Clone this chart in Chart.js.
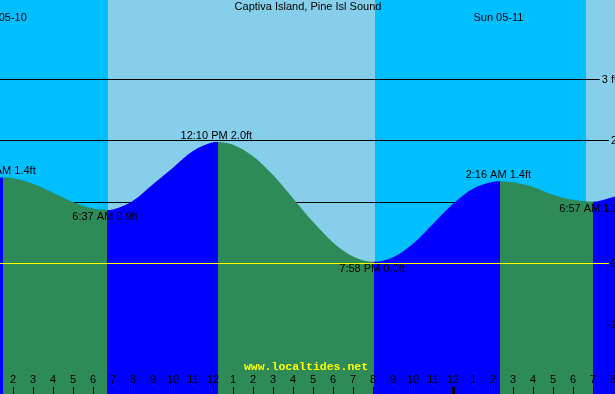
<!DOCTYPE html>
<html lang="en">
<head>
<meta charset="UTF-8">
<title>Captiva Island, Pine Isl Sound</title>
<style>
  body { margin: 0; background: #87CEEB; }
  #wrap { width: 615px; height: 394px; }
</style>
</head>
<body>
<div id="wrap"><canvas id="tideChart" width="615" height="394"></canvas></div>
<script src="https://cdn.jsdelivr.net/npm/chart.js@4"></script>
<script>
  // time is in hours counted from midnight, Sat 05-10
  const hours   = [1.0, 1.5, 2, 3, 4, 5, 6, 6.7, 7, 8, 9, 10, 11, 12, 12.25, 13, 14, 15, 16, 17, 18, 19, 20.05,
                   21, 22, 23, 24, 25, 26, 26.35, 27, 28, 29, 30, 31, 32, 33];
  const heights = [1.385, 1.40, 1.388, 1.299, 1.151, 0.998, 0.893, 0.87, 0.878, 1.02, 1.29, 1.56, 1.83, 1.974, 1.98,
                   1.936, 1.747, 1.439, 1.063, 0.676, 0.341, 0.112, 0.026,
                   0.098, 0.32, 0.64, 0.97, 1.215, 1.33, 1.34, 1.324, 1.246, 1.12, 1.035, 1.005, 1.08, 1.2];

  // high / low annotations
  const extremeHours   = [1.5, 6.6, 12.167, 19.95, 26.267, 30.95];
  const extremeHeights = [1.40, 0.87, 1.98, 0.026, 1.34, 1.005];
  const extremeLabels  = ["1:25 AM 1.4ft", "6:37 AM 0.9ft", "12:10 PM 2.0ft", "7:58 PM 0.0ft", "2:16 AM 1.4ft", "6:57 AM 1.0ft"];
  const extremeIsHigh  = [true, false, true, false, true, false];

  // night = before sunrise / after sunset
  const nightFrom = [0, 20.1];
  const nightTo   = [6.75, 30.67];

  const dayLabels     = ["Sat 05-10", "Sun 05-11"];
  const dayLabelHours = [1.5, 26.27];

  const levelValues = [3, 2, 1, 0, -1];
  const levelLabels = ["3 ft", "2", "1", "0", "-1"];

  const hourTicks  = [1, 2, 3, 4, 5, 6, 7, 8, 9, 10, 11, 12, 13, 14, 15, 16, 17, 18, 19, 20, 21, 22, 23, 24,
                      25, 26, 27, 28, 29, 30, 31, 32];
  const hourLabels = ["1", "2", "3", "4", "5", "6", "7", "8", "9", "10", "11", "12", "1", "2", "3", "4", "5", "6",
                      "7", "8", "9", "10", "11", "12", "1", "2", "3", "4", "5", "6", "7", "8"];

  const DAY = "#87CEEB", NIGHT = "#00BFFF";
  const RISING = "#0000FF", FALLING = "#2E8B57";
  const FONT = '11px "Liberation Sans", Arial, sans-serif';

  function levelLine(ctx, area, y, v, i, color) {
    const py = Math.round(y.getPixelForValue(v) - 0.5);
    const labelRight = area.right + 2;
    const w = ctx.measureText(levelLabels[i]).width;
    ctx.fillStyle = color;
    if (v > -1) ctx.fillRect(area.left, py, labelRight - w - 2 - area.left, 1);
    ctx.fillStyle = "#000";
    ctx.fillText(levelLabels[i], labelRight, py + 1);
  }

  const decor = {
    id: "tideDecor",
    beforeDraw(chart) {
      const {ctx, chartArea: a, scales: {x, y}} = chart;
      ctx.save();
      ctx.fillStyle = DAY;
      ctx.fillRect(a.left, a.top, a.right - a.left, a.bottom - a.top);
      ctx.fillStyle = NIGHT;
      nightFrom.forEach((s, i) => {
        const x0 = Math.round(x.getPixelForValue(s));
        const x1 = Math.round(x.getPixelForValue(nightTo[i]));
        ctx.fillRect(x0, a.top, x1 - x0, a.bottom - a.top);
      });
      // levels above zero sit behind the water
      ctx.font = FONT;
      ctx.textAlign = "right";
      ctx.textBaseline = "middle";
      levelValues.forEach((v, i) => { if (v > 0) levelLine(ctx, a, y, v, i, "#000"); });
      ctx.restore();
    },
    afterDatasetsDraw(chart) {
      const {ctx, chartArea: a, scales: {x, y}} = chart;
      ctx.save();
      ctx.font = FONT;
      ctx.textAlign = "right";
      ctx.textBaseline = "middle";
      levelValues.forEach((v, i) => { if (v <= 0) levelLine(ctx, a, y, v, i, "#FFFF00"); });

      ctx.fillStyle = "#000";
      ctx.textAlign = "center";
      ctx.textBaseline = "alphabetic";
      ctx.fillText("Captiva Island, Pine Isl Sound", 308, 10);
      dayLabels.forEach((t, i) => ctx.fillText(t, x.getPixelForValue(dayLabelHours[i]), 21));

      extremeLabels.forEach((t, i) => {
        const px = x.getPixelForValue(extremeHours[i]);
        const py = y.getPixelForValue(extremeHeights[i]);
        ctx.fillText(t, px, extremeIsHigh[i] ? py - 3 : py + 10);
      });

      hourTicks.forEach((h, i) => {
        const px = Math.round(x.getPixelForValue(h));
        ctx.fillText(hourLabels[i], px, 383);
        if (h % 24 === 0) ctx.fillRect(px - 1, 387, 3, 7);
        else ctx.fillRect(px, 387, 1, 7);
      });

      ctx.font = 'bold 11.5px "Liberation Mono", "DejaVu Sans Mono", monospace';
      ctx.fillStyle = "#FFFF00";
      ctx.fillText("www.localtides.net", 306, 370);
      ctx.restore();
    }
  };

  new Chart(document.getElementById("tideChart"), {
    type: "line",
    data: {
      datasets: [{
        data: hours.map((h, i) => ({x: h, y: heights[i]})),
        fill: "start",
        backgroundColor: FALLING,
        borderColor: "rgba(0,0,0,0)",
        borderWidth: 0,
        pointRadius: 0,
        cubicInterpolationMode: "monotone",
        segment: {
          backgroundColor: c => c.p1.parsed.y > c.p0.parsed.y ? RISING : FALLING
        }
      }]
    },
    options: {
      responsive: false,
      animation: false,
      devicePixelRatio: 1,
      layout: { padding: 0 },
      plugins: { legend: { display: false }, tooltip: { enabled: false } },
      scales: {
        x: { type: "linear", min: 1.35, max: 32.1, display: false },
        y: { type: "linear", min: -2.1321, max: 4.2953, display: false }
      }
    },
    plugins: [decor]
  });
</script>
</body>
</html>
